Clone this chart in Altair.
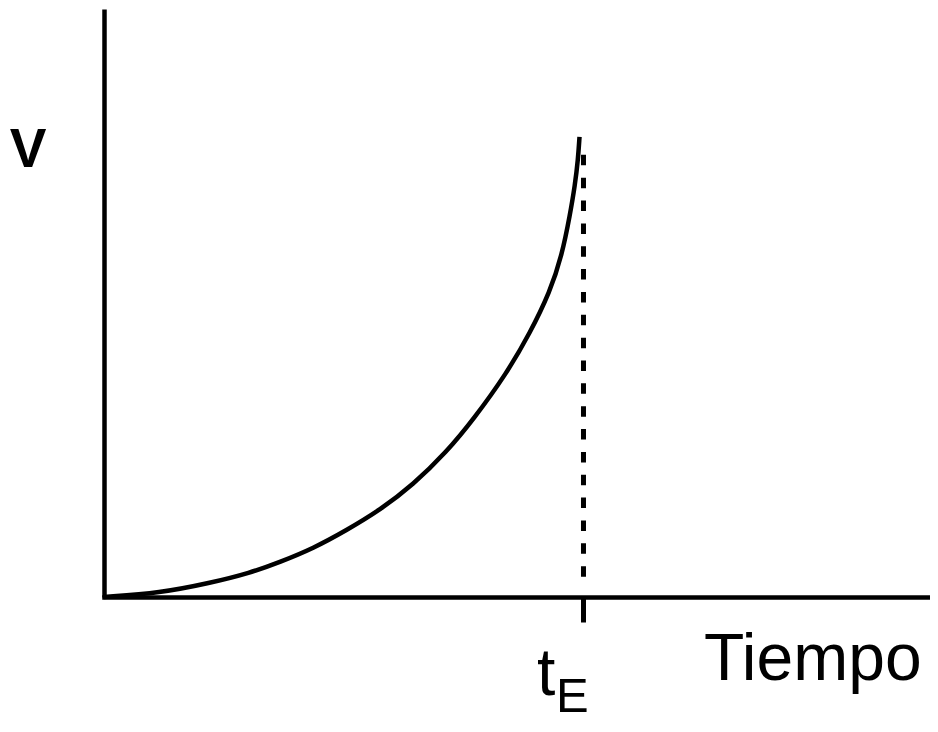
import altair as alt
import pandas as pd

# Curve (time in units of t_E, V in units of V at t_E)
time_vals = [0.0, 0.1168, 0.2211, 0.3045, 0.3671, 0.4359, 0.5068, 0.5756, 0.6444,
             0.7153, 0.7696, 0.8405, 0.8884, 0.9301, 0.9552, 0.9718, 0.9823,
             0.9885, 0.9917]
v_vals = [0.0, 0.0087, 0.0304, 0.0522, 0.0761, 0.1054, 0.1457, 0.1891, 0.2435,
          0.3163, 0.3848, 0.4870, 0.5739, 0.6630, 0.7435, 0.8304, 0.8957,
          0.9500, 1.0]

t_E = [1.0]
dash_top = [0.961]
dash_bottom = [0.035]

y_label = ["V"]
x_label = ["Tiempo"]
tE_main = ["t"]
tE_sub = ["E"]

FONT = "Liberation Sans"

curve = pd.DataFrame({"t": time_vals, "v": v_vals})
dash = pd.DataFrame({"t": t_E, "v": dash_top, "v2": dash_bottom})

xscale = alt.Scale(domain=[0, 1.7185], nice=False, zero=False)
yscale = alt.Scale(domain=[0, 1.278], nice=False)

xaxis = alt.Axis(values=t_E, labels=False, title=None, grid=False,
                 ticks=True, tickSize=25, tickWidth=5, tickColor="black",
                 domain=True, domainColor="black", domainWidth=4.5, domainCap="square")
yaxis = alt.Axis(labels=False, ticks=False, title=None, grid=False,
                 domain=True, domainColor="black", domainWidth=4.5)

line = alt.Chart(curve).mark_line(
    color="black", strokeWidth=4.5, interpolate="basis"
).encode(
    x=alt.X("t:Q", scale=xscale, axis=xaxis),
    y=alt.Y("v:Q", scale=yscale, axis=yaxis),
)

rule = alt.Chart(dash).mark_rule(
    color="black", strokeWidth=5, strokeDash=[10.5, 12.35]
).encode(
    x=alt.X("t:Q", scale=xscale, axis=xaxis),
    y=alt.Y("v:Q", scale=yscale, axis=yaxis),
    y2="v2:Q",
)

def label(values, x, y, size, align="left", weight="normal"):
    return alt.Chart(pd.DataFrame({"lab": values})).mark_text(
        font=FONT, fontSize=size, fontWeight=weight, align=align,
        baseline="alphabetic", color="black"
    ).encode(x=alt.value(x), y=alt.value(y), text="lab:N")

v_text = label(y_label, -76, 158, 55, align="center", weight="bold")
tiempo_text = label(x_label, 600, 671, 66)
t_text = label(tE_main, 433, 686, 66)
e_text = label(tE_sub, 452, 703, 49)

chart = alt.layer(line, rule, v_text, tiempo_text, t_text, e_text).properties(
    width=824, height=588,
    background="white",
    autosize=alt.AutoSizeParams(type="none"),
    padding={"left": 96, "top": 1, "right": 2, "bottom": 127},
).configure_view(strokeWidth=0)

chart.save("out.html", embed_options={"renderer": "svg", "actions": False})
